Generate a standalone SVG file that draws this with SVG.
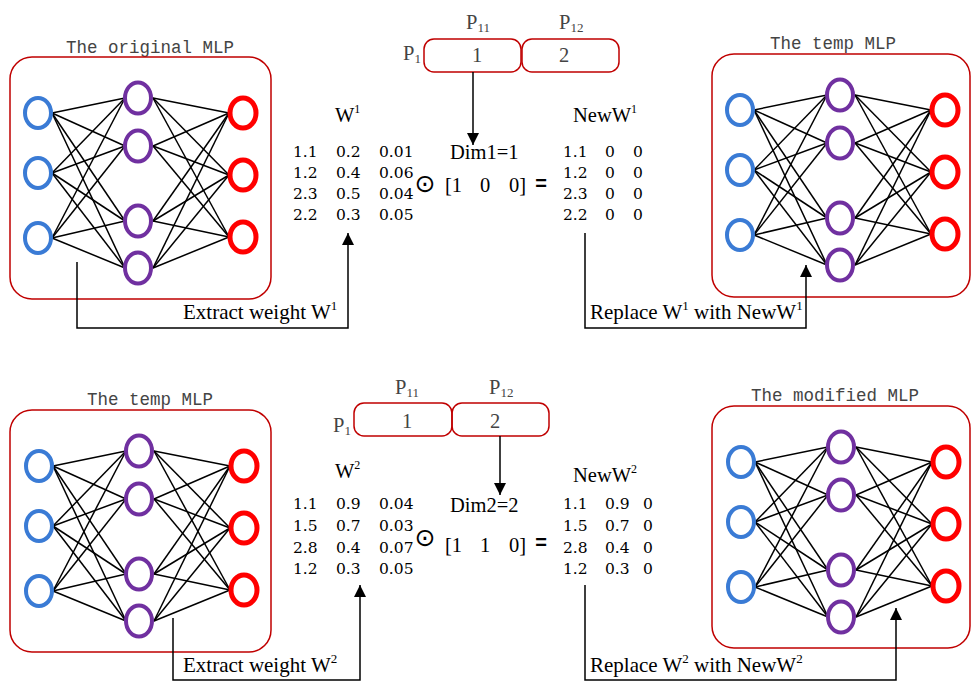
<svg xmlns="http://www.w3.org/2000/svg" xmlns:xlink="http://www.w3.org/1999/xlink" width="971" height="681" viewBox="0 0 971 681">
<style>
.box{fill:none;stroke:#C00000;stroke-width:1.5}
.pin{fill:none;stroke:#3A7BD5;stroke-width:4}
.phid{fill:none;stroke:#7030A0;stroke-width:4}
.pout{fill:none;stroke:#FF0000;stroke-width:5}
.edge{stroke:#000;stroke-width:1.5}
.title{font-family:"Liberation Mono",monospace;font-size:17.5px;fill:#444;text-anchor:middle}
.tm{font-family:"Liberation Serif",serif;font-size:20.5px;fill:#000}
.pl{font-family:"Liberation Serif",serif;font-size:20.5px;fill:#444}
.lab{font-family:"Liberation Serif",serif;font-size:21px;fill:#000}
.num{font-family:"DejaVu Serif",serif;font-size:15.5px;fill:#000}
.odot{font-family:"DejaVu Sans",sans-serif;font-size:25px;fill:#000;text-anchor:middle}
.eq{font-family:"Liberation Sans",sans-serif;font-weight:bold;font-size:20px;fill:#000;text-anchor:middle}
.conn{fill:none;stroke:#000;stroke-width:1.5}
</style>
<defs>
<marker id="ah" markerWidth="12" markerHeight="12" refX="12" refY="6" orient="auto" markerUnits="userSpaceOnUse">
<path d="M0,0 L12,6 L0,12 z" fill="#000"/>
</marker>
<g id="net">
<g class="edge">
<line x1="14" y1="0" x2="87" y2="-15"/><line x1="14" y1="0" x2="87" y2="33"/><line x1="14" y1="0" x2="87" y2="108"/><line x1="14" y1="0" x2="87" y2="155"/>
<line x1="14" y1="60" x2="87" y2="-15"/><line x1="14" y1="60" x2="87" y2="33"/><line x1="14" y1="60" x2="87" y2="108"/><line x1="14" y1="60" x2="87" y2="155"/>
<line x1="14" y1="125" x2="87" y2="-15"/><line x1="14" y1="125" x2="87" y2="33"/><line x1="14" y1="125" x2="87" y2="108"/><line x1="14" y1="125" x2="87" y2="155"/>
<line x1="115" y1="-15" x2="191" y2="0"/><line x1="115" y1="-15" x2="191" y2="62"/><line x1="115" y1="-15" x2="191" y2="124"/>
<line x1="115" y1="33" x2="191" y2="0"/><line x1="115" y1="33" x2="191" y2="62"/><line x1="115" y1="33" x2="191" y2="124"/>
<line x1="115" y1="108" x2="191" y2="0"/><line x1="115" y1="108" x2="191" y2="62"/><line x1="115" y1="108" x2="191" y2="124"/>
<line x1="115" y1="155" x2="191" y2="0"/><line x1="115" y1="155" x2="191" y2="62"/><line x1="115" y1="155" x2="191" y2="124"/>
</g>
<ellipse class="pin" cx="0" cy="0" rx="13" ry="15"/>
<ellipse class="pin" cx="0" cy="60" rx="13" ry="15"/>
<ellipse class="pin" cx="0" cy="125" rx="13" ry="15"/>
<ellipse class="phid" cx="100" cy="-15" rx="13" ry="15.5"/>
<ellipse class="phid" cx="100" cy="33" rx="13" ry="15.5"/>
<ellipse class="phid" cx="100" cy="108" rx="13" ry="15.5"/>
<ellipse class="phid" cx="100" cy="155" rx="13" ry="15.5"/>
<ellipse class="pout" cx="205" cy="0" rx="13" ry="15"/>
<ellipse class="pout" cx="205" cy="62" rx="13" ry="15"/>
<ellipse class="pout" cx="205" cy="124" rx="13" ry="15"/>
</g>
</defs>
<rect width="971" height="681" fill="#fff"/>

<g id="mlp-original">
<text class="title" x="150" y="53">The original MLP</text>
<rect class="box" x="10" y="57" width="261" height="242" rx="22"/>
<use xlink:href="#net" href="#net" transform="translate(38,113)"/>
</g>
<g id="mlp-temp-top">
<text class="title" x="833" y="49">The temp MLP</text>
<rect class="box" x="712" y="54" width="258" height="243" rx="22"/>
<use xlink:href="#net" href="#net" transform="translate(740,110)"/>
</g>
<g id="mlp-temp-bottom">
<text class="title" x="150" y="405">The temp MLP</text>
<rect class="box" x="10" y="410" width="261" height="242" rx="22"/>
<use xlink:href="#net" href="#net" transform="translate(39,466)"/>
</g>
<g id="mlp-modified">
<text class="title" x="835" y="401">The modified MLP</text>
<rect class="box" x="712" y="406" width="258" height="242" rx="22"/>
<use xlink:href="#net" href="#net" transform="translate(741,462)"/>
</g>

<g id="partition-top">
<text class="pl" x="403" y="60">P<tspan font-size="13" dy="3">1</tspan></text>
<text class="pl" x="466" y="29">P<tspan font-size="13" dy="3">11</tspan></text>
<text class="pl" x="559" y="29">P<tspan font-size="13" dy="3">12</tspan></text>
<rect class="box" x="424" y="39" width="97" height="33" rx="10"/>
<rect class="box" x="522" y="39" width="97" height="33" rx="10"/>
<text class="pl" x="477" y="62" text-anchor="middle">1</text>
<text class="pl" x="564" y="62" text-anchor="middle">2</text>
</g>
<g id="partition-bottom">
<text class="pl" x="333" y="432">P<tspan font-size="13" dy="3">1</tspan></text>
<text class="pl" x="395" y="394">P<tspan font-size="13" dy="3">11</tspan></text>
<text class="pl" x="489" y="394">P<tspan font-size="13" dy="3">12</tspan></text>
<rect class="box" x="354" y="403" width="98" height="33" rx="10"/>
<rect class="box" x="452" y="403" width="97" height="33" rx="10"/>
<text class="pl" x="407" y="428" text-anchor="middle">1</text>
<text class="pl" x="495" y="428" text-anchor="middle">2</text>
</g>

<g id="w1">
<text class="tm" x="335" y="122">W<tspan font-size="12" dy="-9">1</tspan></text>
<text class="num" y="157"><tspan x="293">1.1</tspan><tspan x="336">0.2</tspan><tspan x="379">0.01</tspan></text>
<text class="num" y="178"><tspan x="293">1.2</tspan><tspan x="336">0.4</tspan><tspan x="379">0.06</tspan></text>
<text class="num" y="199"><tspan x="293">2.3</tspan><tspan x="336">0.5</tspan><tspan x="379">0.04</tspan></text>
<text class="num" y="220"><tspan x="293">2.2</tspan><tspan x="336">0.3</tspan><tspan x="379">0.05</tspan></text>
</g>
<g id="op1">
<text class="tm" x="450" y="159">Dim1=1</text>
<text class="odot" x="425" y="192">⊙</text>
<text class="tm" y="192"><tspan x="445">[1</tspan><tspan x="480">0</tspan><tspan x="509">0]</tspan></text>
<text class="eq" x="541" y="190">=</text>
</g>
<g id="neww1">
<text class="tm" x="573" y="122">NewW<tspan font-size="12" dy="-9">1</tspan></text>
<text class="num" y="157"><tspan x="563">1.1</tspan><tspan x="605">0</tspan><tspan x="633">0</tspan></text>
<text class="num" y="178"><tspan x="563">1.2</tspan><tspan x="605">0</tspan><tspan x="633">0</tspan></text>
<text class="num" y="199"><tspan x="563">2.3</tspan><tspan x="605">0</tspan><tspan x="633">0</tspan></text>
<text class="num" y="220"><tspan x="563">2.2</tspan><tspan x="605">0</tspan><tspan x="633">0</tspan></text>
</g>

<g id="w2">
<text class="tm" x="335" y="478">W<tspan font-size="12" dy="-9">2</tspan></text>
<text class="num" y="509"><tspan x="293">1.1</tspan><tspan x="336">0.9</tspan><tspan x="379">0.04</tspan></text>
<text class="num" y="531"><tspan x="293">1.5</tspan><tspan x="336">0.7</tspan><tspan x="379">0.03</tspan></text>
<text class="num" y="553"><tspan x="293">2.8</tspan><tspan x="336">0.4</tspan><tspan x="379">0.07</tspan></text>
<text class="num" y="574"><tspan x="293">1.2</tspan><tspan x="336">0.3</tspan><tspan x="379">0.05</tspan></text>
</g>
<g id="op2">
<text class="tm" x="450" y="512">Dim2=2</text>
<text class="odot" x="425" y="546">⊙</text>
<text class="tm" y="552"><tspan x="445">[1</tspan><tspan x="480">1</tspan><tspan x="509">0]</tspan></text>
<text class="eq" x="541" y="549">=</text>
</g>
<g id="neww2">
<text class="tm" x="573" y="482">NewW<tspan font-size="12" dy="-9">2</tspan></text>
<text class="num" y="509"><tspan x="563">1.1</tspan><tspan x="605">0.9</tspan><tspan x="643">0</tspan></text>
<text class="num" y="531"><tspan x="563">1.5</tspan><tspan x="605">0.7</tspan><tspan x="643">0</tspan></text>
<text class="num" y="553"><tspan x="563">2.8</tspan><tspan x="605">0.4</tspan><tspan x="643">0</tspan></text>
<text class="num" y="574"><tspan x="563">1.2</tspan><tspan x="605">0.3</tspan><tspan x="643">0</tspan></text>
</g>

<g id="connectors">
<path class="conn" d="M473,72 V145" marker-end="url(#ah)"/>
<path class="conn" d="M77,262 V328 H348 V233" marker-end="url(#ah)"/>
<path class="conn" d="M585,233 V328 H806 V265" marker-end="url(#ah)"/>
<path class="conn" d="M500,436 V495" marker-end="url(#ah)"/>
<path class="conn" d="M173,618 V680 H360 V585" marker-end="url(#ah)"/>
<path class="conn" d="M585,585 V680 H896 V608" marker-end="url(#ah)"/>
<text class="lab" x="183" y="319">Extract weight W<tspan font-size="13" dy="-9">1</tspan></text>
<text class="lab" x="590" y="319">Replace W<tspan font-size="13" dy="-9">1</tspan><tspan dy="9"> with NewW</tspan><tspan font-size="13" dy="-9">1</tspan></text>
<text class="lab" x="183" y="672">Extract weight W<tspan font-size="13" dy="-9">2</tspan></text>
<text class="lab" x="590" y="672">Replace W<tspan font-size="13" dy="-9">2</tspan><tspan dy="9"> with NewW</tspan><tspan font-size="13" dy="-9">2</tspan></text>
</g>
</svg>
